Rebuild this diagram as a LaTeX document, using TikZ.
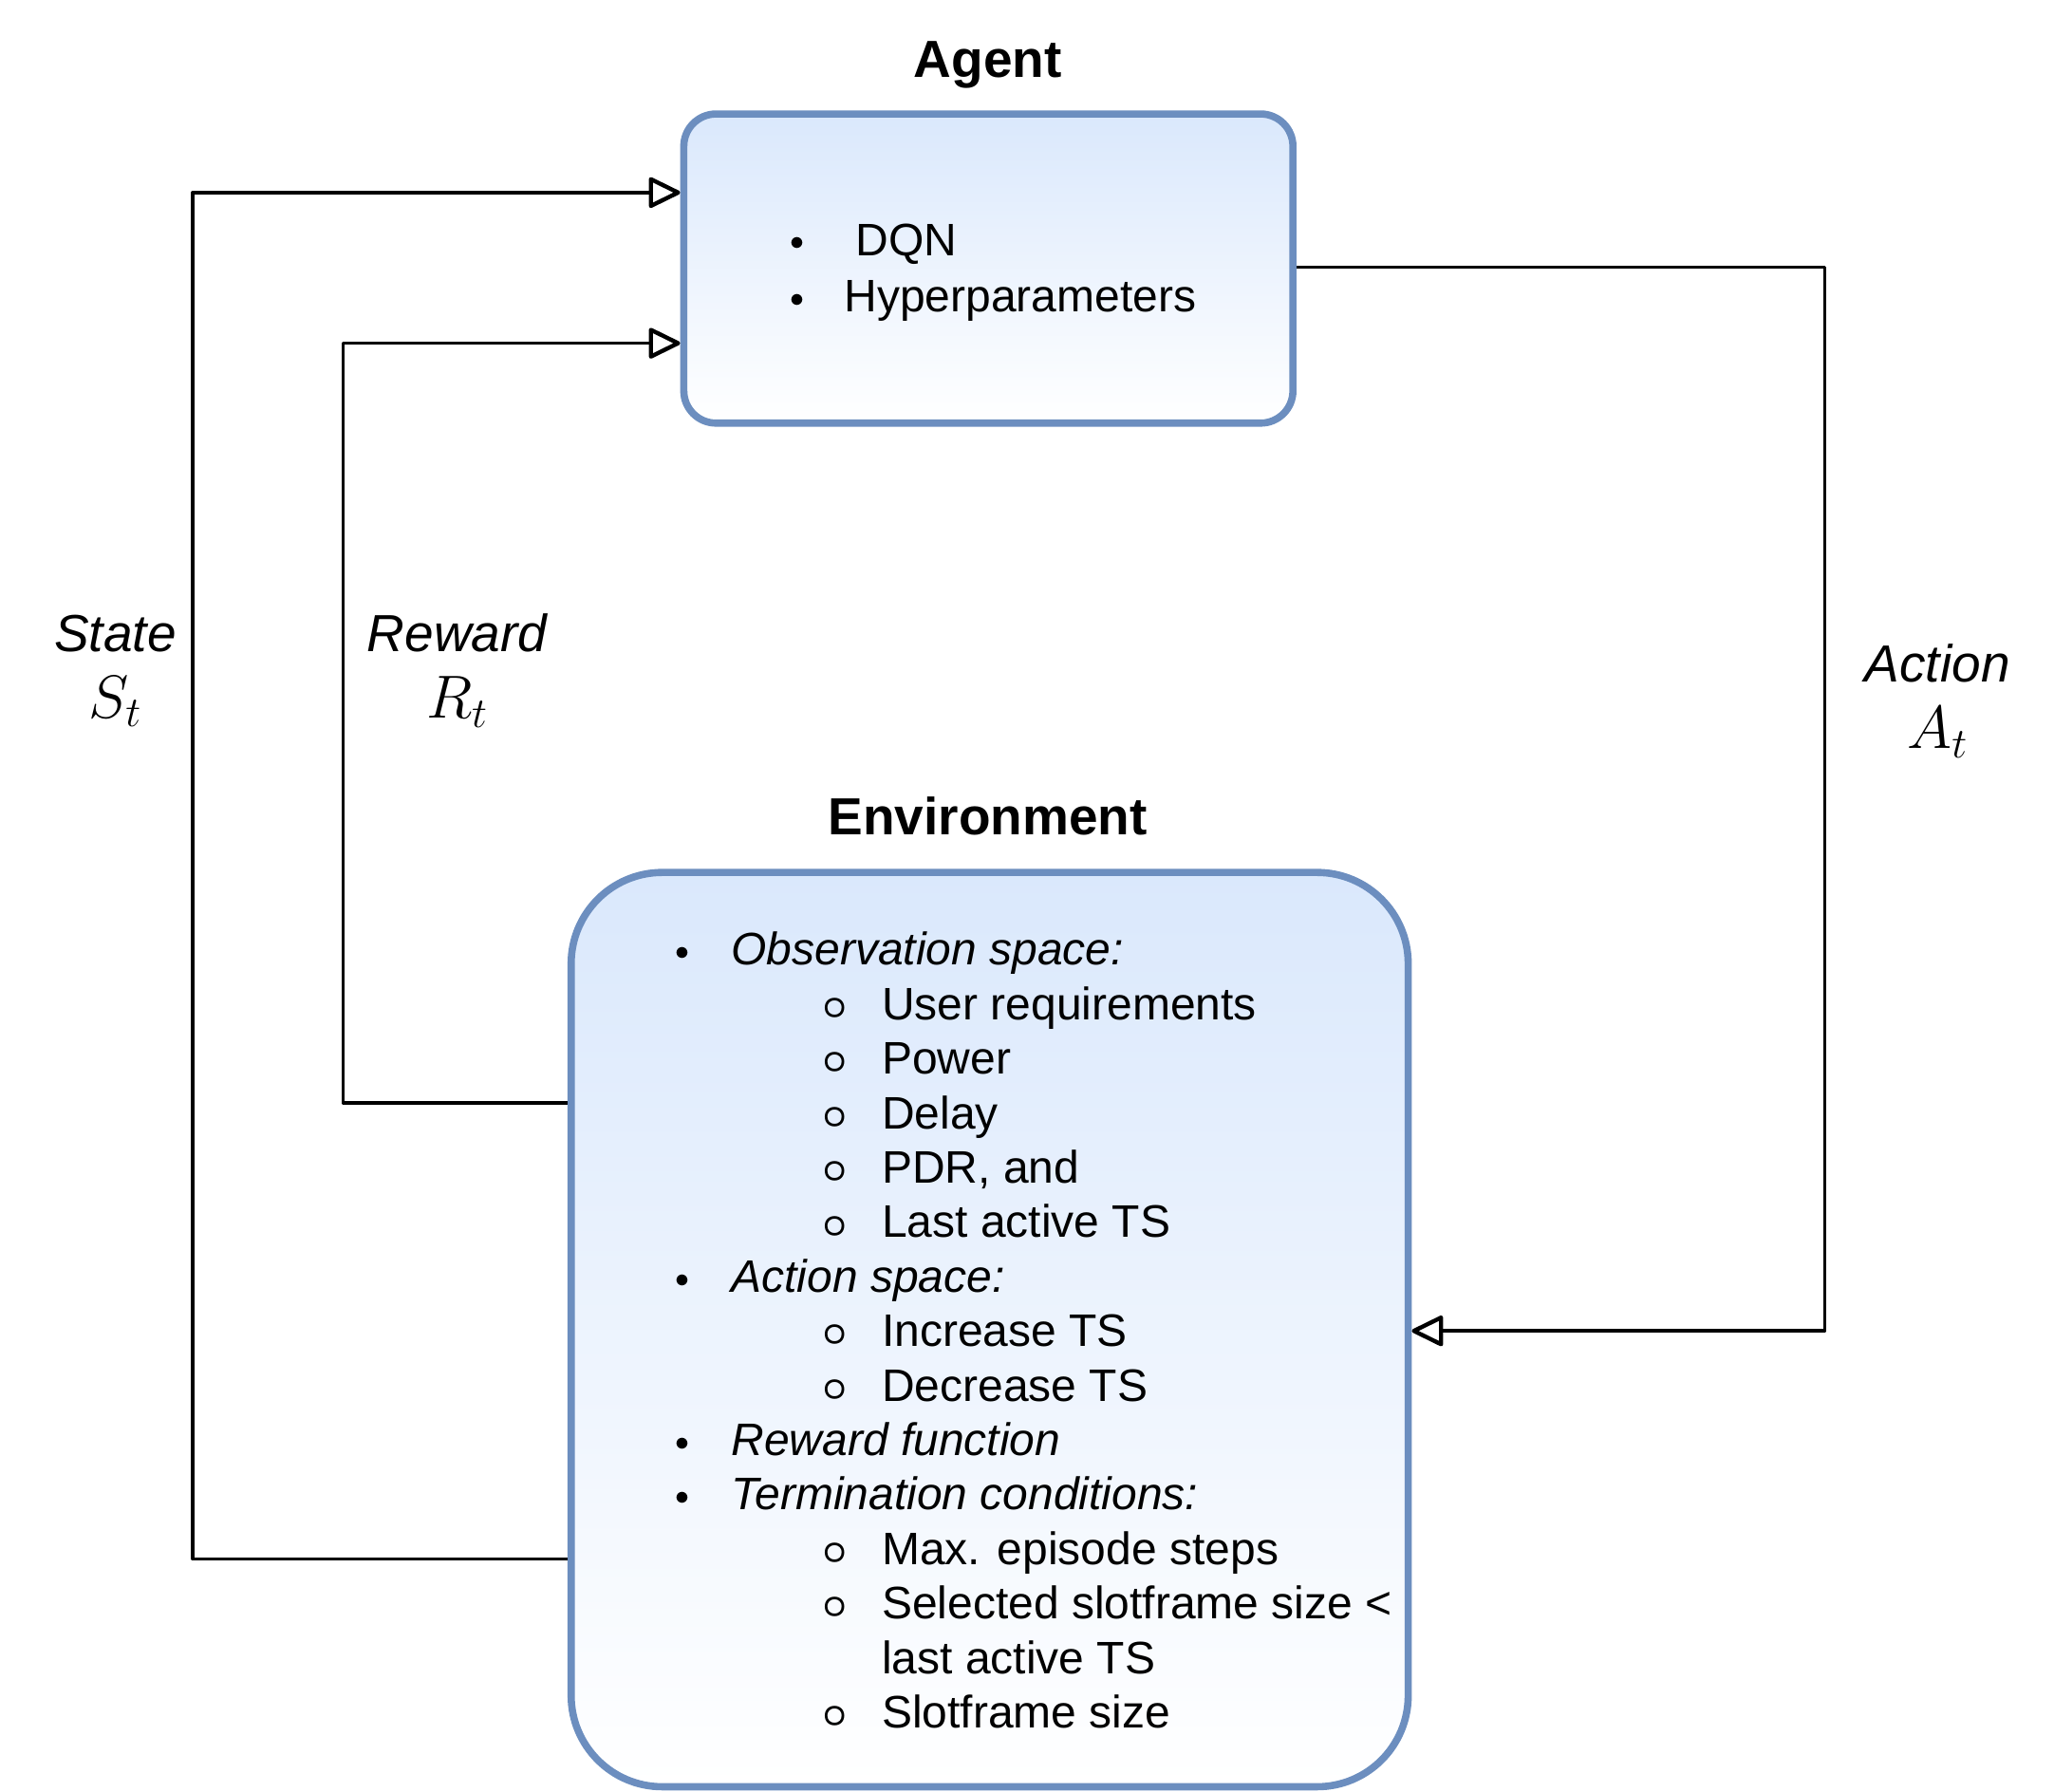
\RequirePackage{fix-cm}
\documentclass[tikz,border=0pt]{standalone}
\usepackage{fontspec}
\setmainfont{Liberation Sans}
\usetikzlibrary{arrows.meta}
\definecolor{boxfill}{HTML}{DAE8FC}
\definecolor{boxline}{HTML}{6C8EBF}
\newcommand\mybul{\makebox[0pt][c]{\raisebox{2.6pt}{\fontsize{15}{15}\selectfont$\bullet$}}}
\newcommand\mysub{\makebox[0pt][c]{\raisebox{0.4pt}{\fontsize{23}{23}\selectfont\boldmath$\circ$}}}
\newcommand\lvlA[1]{\mybul\hspace{25.5pt}#1}
\newcommand\lvlB[1]{\hspace*{80pt}\mysub\hspace{24.8pt}#1}
\newcommand\lvlC[1]{\hspace*{104.8pt}#1}
\begin{document}
\begin{tikzpicture}[x=0.69pt,y=-0.69pt,
  box/.style={draw=boxline, line width=3.8pt, top color=boxfill, bottom color=white, inner sep=0pt},
  conn/.style={line width=1.8pt, line join=round, -{Triangle[open, length=18pt, width=17pt, line width=2.2pt, round]}},
  title/.style={font=\fontsize{27.5}{33}\selectfont\bfseries, inner sep=0pt},
  lbl/.style={font=\fontsize{27.5}{35}\selectfont\itshape, align=center, inner sep=0pt},
  body/.style={font=\fontsize{24}{28.7}\selectfont, align=left, inner sep=0pt}]
\useasboundingbox (0,0) rectangle (1568,1368);

% boxes
\node[box, rounded corners=17pt, minimum width=320.85pt, minimum height=162.84pt] (agent) at (754.5,205) {};
\node[box, rounded corners=48pt, minimum width=440.9pt, minimum height=481.6pt] (env) at (755.5,1015) {};

% titles
\node[title, anchor=base] (agenttitle) at (754,59) {Agent};
\node[title, anchor=base] (envtitle) at (754,637) {Environment};

% agent text
\node[body, font=\fontsize{24}{29.7}\selectfont, anchor=west] (agenttext) at (608,208)
  {\mybul\hspace{31pt}DQN\\ \mybul\hspace{25pt}Hyperparameters};

% environment text
\node[body, anchor=west] (envtext) at (521,1015.5) {%
\lvlA{\itshape Observation space:}\\
\lvlB{User requirements}\\
\lvlB{Power}\\
\lvlB{Delay}\\
\lvlB{PDR, and}\\
\lvlB{Last active TS}\\
\lvlA{\itshape Action space:}\\
\lvlB{Increase TS}\\
\lvlB{Decrease TS}\\
\lvlA{\itshape Reward function}\\
\lvlA{\itshape Termination conditions:}\\
\lvlB{Max. episode steps}\\
\lvlB{Selected slotframe size <}\\
\lvlC{last active TS}\\
\lvlB{Slotframe size}};

% connector corners
\coordinate (stB) at (147,1190);
\coordinate (stT) at (147,147);
\coordinate (rwB) at (262,842);
\coordinate (rwT) at (262,262);
\coordinate (acT) at (1393,204);
\coordinate (acB) at (1393,1016);

\draw[conn] (env.west |- stB) -- (stB) -- (stT) -- (agent.west |- stT);
\draw[conn] (env.west |- rwB) -- (rwB) -- (rwT) -- (agent.west |- rwT);
\draw[conn] (agent.east |- acT) -- (acT) -- (acB) -- (env.east |- acB);

% labels
\node[lbl] (statelbl) at (88,512) {State\\{\fontsize{32}{35}\selectfont$S_t$}};
\node[lbl] (rewardlbl) at (349,512) {Reward\\{\fontsize{32}{35}\selectfont$R_t$}};
\node[lbl] (actionlbl) at (1479,535) {Action\\{\fontsize{32}{35}\selectfont$A_t$}};
\end{tikzpicture}
\end{document}
